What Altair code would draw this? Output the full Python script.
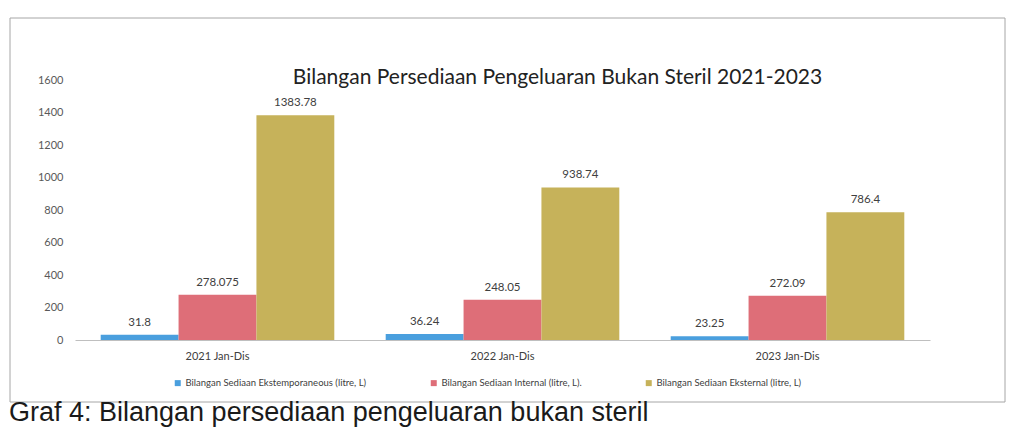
import altair as alt
import pandas as pd

categories = ["2021 Jan-Dis", "2022 Jan-Dis", "2023 Jan-Dis"]
series = [
    "Bilangan Sediaan Ekstemporaneous (litre, L)",
    "Bilangan Sediaan Internal (litre, L).",
    "Bilangan Sediaan Eksternal (litre, L)",
]
ekstemporaneous = [31.8, 36.24, 23.25]
internal = [278.075, 248.05, 272.09]
eksternal = [1383.78, 938.74, 786.4]
labels_ekst = ["31.8", "36.24", "23.25"]
labels_int = ["278.075", "248.05", "272.09"]
labels_eks = ["1383.78", "938.74", "786.4"]
y_ticks = [0, 200, 400, 600, 800, 1000, 1200, 1400, 1600]
colors = ["#4A9FDE", "#DE6E78", "#C6B25A"]
caption_text = "Graf 4: Bilangan persediaan pengeluaran bukan steril"

rows = []
for vals, labs, s in [(ekstemporaneous, labels_ekst, series[0]),
                      (internal, labels_int, series[1]),
                      (eksternal, labels_eks, series[2])]:
    for c, v, l in zip(categories, vals, labs):
        rows.append({"Kategori": c, "Siri": s, "Nilai": v, "Label": l})
df = pd.DataFrame(rows)

FONT = "Lato"

x_enc = alt.X("Kategori:N", sort=categories,
              scale=alt.Scale(paddingInner=0, paddingOuter=0),
              axis=alt.Axis(title=None, labelAngle=0, ticks=False, labelPadding=10,
                            labelFontSize=11, labelColor="#404040", labelFont=FONT,
                            domainColor="#BFBFBF"))
xoff = alt.XOffset("Siri:N", sort=series,
                   scale=alt.Scale(paddingInner=0, paddingOuter=0.33))
y_enc = alt.Y("Nilai:Q", scale=alt.Scale(domain=[0, 1600]),
              axis=alt.Axis(title=None, values=y_ticks, format="d", labelOverlap=False,
                            grid=False, domain=False, ticks=False, labelPadding=12,
                            labelFontSize=11, labelColor="#595959", labelFont=FONT))

base = alt.Chart(df)
bars = base.mark_bar().encode(
    x=x_enc, xOffset=xoff, y=y_enc,
    color=alt.Color("Siri:N", sort=series,
                    scale=alt.Scale(domain=series, range=colors),
                    legend=alt.Legend(title=None, orient="none", direction="horizontal",
                                      legendX=98, legendY=298, columns=3,
                                      columnPadding=62, symbolType="square",
                                      symbolSize=36, symbolOffset=0, labelOffset=3,
                                      labelFontSize=9.5, labelFont=FONT,
                                      labelColor="#404040", labelLimit=400)),
)
text = base.mark_text(dy=-12, fontSize=11.5, font=FONT, color="#404040").encode(
    x=x_enc, xOffset=xoff, y=y_enc, text="Label:N",
)

frame_df = pd.DataFrame({"k": [1]})
frame = alt.Chart(frame_df).mark_rect(fill=None, stroke="#A6A6A6", strokeWidth=1).encode(
    x=alt.value(-65), x2=alt.value(930), y=alt.value(-62), y2=alt.value(322)
)
caption = alt.Chart(pd.DataFrame({"t": [caption_text]})).mark_text(
    align="left", baseline="top", fontSize=27, font="Liberation Sans", color="#1a1a1a"
).encode(x=alt.value(-66), y=alt.value(320), text="t:N")

chart = alt.layer(frame, bars, text, caption).properties(
    width=855, height=260,
    title=alt.TitleParams("Bilangan Persediaan Pengeluaran Bukan Steril 2021-2023",
                          fontSize=21, font=FONT, fontWeight="normal", color="#222222",
                          anchor="middle", dx=55, dy=74),
    autosize=alt.AutoSizeParams(type="none"),
    padding={"left": 67, "top": 72, "right": 78, "bottom": 95},
).configure_view(stroke=None).configure_axisY(labelOverlap=False)

chart.save("out.html", embed_options={"renderer": "svg", "actions": False})
